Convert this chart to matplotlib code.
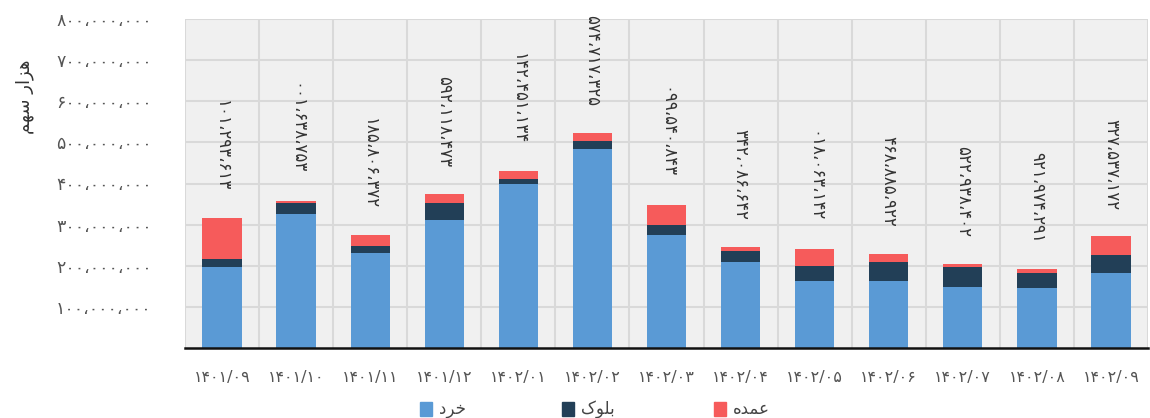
import matplotlib
matplotlib.use("Agg")
import matplotlib.pyplot as plt
from matplotlib.patches import Rectangle
import numpy as np

plt.rcParams['font.family'] = ['DejaVu Sans']

categories = ["1401/09", "1401/10", "1401/11", "1401/12", "1402/01", "1402/02", "1402/03",
              "1402/04", "1402/05", "1402/06", "1402/07", "1402/08", "1402/09"]
khord = [197_400_000, 325_700_000, 230_900_000, 311_000_000, 397_600_000, 483_700_000, 274_700_000,
         208_000_000, 163_600_000, 162_900_000, 148_300_000, 146_600_000, 183_000_000]
block = [18_100_000, 26_000_000, 17_800_000, 42_000_000, 12_900_000, 20_300_000, 24_300_000,
         27_800_000, 36_400_000, 46_900_000, 47_700_000, 35_000_000, 43_800_000]
omde = [100_892_101, 6_136_100, 24_908_581, 21_811_295, 20_654_241, 19_717_475, 49_045_990,
        10_880_243, 41_360_810, 19_788_864, 8_839_225, 10_879_129, 44_935_723]
yticks = [100_000_000, 200_000_000, 300_000_000, 400_000_000, 500_000_000,
          600_000_000, 700_000_000, 800_000_000]

# series names (Persian, shaped with presentation forms, visual order)
name_khord = "\uFEA9\uFEAE\uFEA7"          # خرد
name_block = "\u06A9\uFEEE\uFEE0\uFE91"    # بلوک
name_omde = "\uFEE9\uFEAA\uFEE4\uFECB"     # عمده
ylabel = "\uFEE2\uFEEC\uFEB3 \uFEAD\uFE8D\uFEB0\uFEEB"  # هزار سهم

colors = ["#5a9ad5", "#223f57", "#f65b5b"]

FA = str.maketrans("0123456789,", "۰۱۲۳۴۵۶۷۸۹،")

def fa(s):
    return s.translate(FA)

fig = plt.figure(figsize=(11.5, 4.18), dpi=100)
ax = fig.add_axes([185/1150, 1-348/418, (1148-185)/1150, (348-19)/418])
ax.set_facecolor("#f0f0f0")

x = np.arange(len(categories))
w = 0.53
k = np.array(khord); b = np.array(block); o = np.array(omde)
ax.bar(x, k, w, color=colors[0], zorder=3)
ax.bar(x, b, w, bottom=k, color=colors[1], zorder=3)
ax.bar(x, o, w, bottom=k+b, color=colors[2], zorder=3)

totals = k + b + o
for xi, t in zip(x, totals):
    lbl = fa(f"{int(t):,}")[::-1]
    ax.annotate(lbl, (xi, t), xytext=(0, 19), textcoords="offset points",
                rotation=-90, ha="center", va="bottom", fontsize=12, color="#333333",
                zorder=4)

ax.set_xlim(-0.5, len(categories)-0.5)
ax.set_ylim(0, 800_000_000)
ax.set_yticks(yticks)
ax.set_yticklabels([fa(f"{v:,}") for v in yticks], fontsize=12.5, color="#555555")
ax.set_xticks(x)
ax.set_xticklabels([fa(c) for c in categories], fontsize=11.5, color="#555555")
ax.tick_params(axis="both", length=0)
ax.tick_params(axis="y", pad=24)
ax.tick_params(axis="x", pad=16)

# grid
for v in yticks:
    ax.axhline(v, color="#d9d9d9", lw=1.5, zorder=1)
for xb in np.arange(-0.5, len(categories), 1.0):
    ax.axvline(xb, color="#d9d9d9", lw=1.5, zorder=1)

for s in ["top", "right", "left"]:
    ax.spines[s].set_visible(False)
ax.spines["bottom"].set_color("#111111")
ax.spines["bottom"].set_linewidth(1.8)
ax.spines["bottom"].set_zorder(5)

fig.text(25/1150, 1-97/418, ylabel, rotation=90, ha="center", va="center",
         fontsize=13, color="#333333")

# legend
items = [(420, name_khord, colors[0]), (562, name_block, colors[1]), (714, name_omde, colors[2])]
for px, name, c in items:
    fig.patches.append(Rectangle((px/1150, 1-416/418), 12/1150, 14/418,
                                 transform=fig.transFigure, color=c, figure=fig))
    fig.text((px+19)/1150, 1-409/418, name, ha="left", va="center", fontsize=12, color="#444444")

fig.savefig("out.png", dpi=100)
